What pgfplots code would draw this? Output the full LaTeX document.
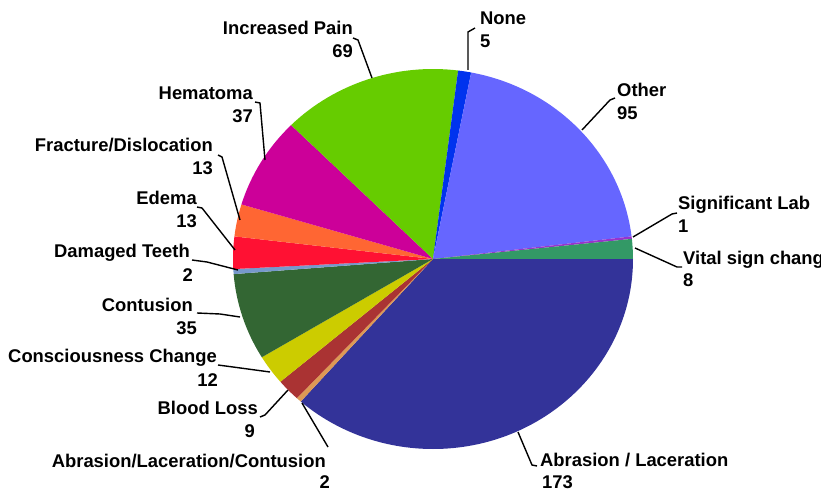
\documentclass[border=0pt]{standalone}
\usepackage{pgfplots}
\pgfplotsset{compat=1.18}
\usepackage{fontspec}
\setmainfont{Liberation Sans}
\definecolor{cA}{HTML}{333399}
\definecolor{cB}{HTML}{DD9955}
\definecolor{cC}{HTML}{AA3333}
\definecolor{cD}{HTML}{CCCC00}
\definecolor{cE}{HTML}{336633}
\definecolor{cF}{HTML}{7799CC}
\definecolor{cG}{HTML}{FF1133}
\definecolor{cH}{HTML}{FF6633}
\definecolor{cI}{HTML}{CC0099}
\definecolor{cJ}{HTML}{66CC00}
\definecolor{cK}{HTML}{0033EE}
\definecolor{cL}{HTML}{6666FF}
\definecolor{cM}{HTML}{9933CC}
\definecolor{cN}{HTML}{339966}
\tikzset{lbl/.style={font=\fontsize{18.4bp}{21bp}\selectfont\bfseries,inner sep=0pt},
  ld/.style={line width=1.4bp,black}}
\begin{document}
\begin{tikzpicture}
\begin{axis}[x=1bp,y=1bp,xmin=0,xmax=821,ymin=0,ymax=493,scale only axis,
  hide axis,clip=false,disabledatascaling]
\pgfplotsextra{
  \gdef\cum{0}
  \foreach \v/\c in {173/cA,2/cB,9/cC,12/cD,35/cE,2/cF,13/cG,13/cH,37/cI,69/cJ,5/cK,95/cL,1/cM,8/cN}{
    \pgfmathsetmacro\a{-\cum/474*360}
    \pgfmathsetmacro\b{-(\cum+\v)/474*360}
    \fill[\c] (axis cs:433,234) -- ++(\a:200bp and 190bp)
      arc[start angle=\a, end angle=\b, x radius=200bp, y radius=190bp] -- cycle;
    \pgfmathsetmacro\n{\cum+\v}
    \global\let\cum\n
  }
}
% leader lines
\draw[ld] (axis cs:353,455) -- (axis cs:358,453) -- (axis cs:372,415);
\draw[ld] (axis cs:475,465) -- (axis cs:468,461) -- (axis cs:468,423);
\draw[ld] (axis cs:615,395) -- (axis cs:610,393) -- (axis cs:582,363);
\draw[ld] (axis cs:677,280) -- (axis cs:672,279) -- (axis cs:633,256);
\draw[ld] (axis cs:635,245) -- (axis cs:677,226) -- (axis cs:682,226);
\draw[ld] (axis cs:537,27) -- (axis cs:532,28) -- (axis cs:518,61);
\draw[ld] (axis cs:328,46) -- (axis cs:302,90);
\draw[ld] (axis cs:260,76) -- (axis cs:265,78) -- (axis cs:288,103);
\draw[ld] (axis cs:218,128) -- (axis cs:233,126) -- (axis cs:270,121);
\draw[ld] (axis cs:197,180) -- (axis cs:220,179) -- (axis cs:240,176);
\draw[ld] (axis cs:192,233) -- (axis cs:207,231) -- (axis cs:238,223);
\draw[ld] (axis cs:197,286) -- (axis cs:202,285) -- (axis cs:235,243);
\draw[ld] (axis cs:218,338) -- (axis cs:222,336) -- (axis cs:240,273);
\draw[ld] (axis cs:255,391) -- (axis cs:260,390) -- (axis cs:265,333);
% labels
\node[lbl,anchor=base east] at (axis cs:353,458) {Increased Pain};
\node[lbl,anchor=base east] at (axis cs:353,435) {69};
\node[lbl,anchor=base west] at (axis cs:480,468) {None};
\node[lbl,anchor=base west] at (axis cs:480,445) {5};
\node[lbl,anchor=base west] at (axis cs:617,396) {Other};
\node[lbl,anchor=base west] at (axis cs:617,373) {95};
\node[lbl,anchor=base west] at (axis cs:678,283) {Significant Lab};
\node[lbl,anchor=base west] at (axis cs:678,260) {1};
\node[lbl,anchor=base west] at (axis cs:683,228) {Vital sign change};
\node[lbl,anchor=base west] at (axis cs:683,206) {8};
\node[lbl,anchor=base west] at (axis cs:540,26) {Abrasion / Laceration};
\node[lbl,anchor=base west] at (axis cs:542,4) {173};
\node[lbl,anchor=base east] at (axis cs:326,25) {Abrasion/Laceration/Contusion};
\node[lbl,anchor=base east] at (axis cs:330,4) {2};
\node[lbl,anchor=base east] at (axis cs:258,78) {Blood Loss};
\node[lbl,anchor=base east] at (axis cs:255,55) {9};
\node[lbl,anchor=base east] at (axis cs:217,130) {Consciousness Change};
\node[lbl,anchor=base east] at (axis cs:218,106) {12};
\node[lbl,anchor=base east] at (axis cs:193,181) {Contusion};
\node[lbl,anchor=base east] at (axis cs:197,158) {35};
\node[lbl,anchor=base east] at (axis cs:190,235) {Damaged Teeth};
\node[lbl,anchor=base east] at (axis cs:193,211) {2};
\node[lbl,anchor=base east] at (axis cs:197,288) {Edema};
\node[lbl,anchor=base east] at (axis cs:197,265) {13};
\node[lbl,anchor=base east] at (axis cs:213,341) {Fracture/Dislocation};
\node[lbl,anchor=base east] at (axis cs:213,318) {13};
\node[lbl,anchor=base east] at (axis cs:253,393) {Hematoma};
\node[lbl,anchor=base east] at (axis cs:253,370) {37};
\end{axis}
\pgfresetboundingbox
\path[use as bounding box] (0,0) rectangle (821bp,493bp);
\end{tikzpicture}
\end{document}
